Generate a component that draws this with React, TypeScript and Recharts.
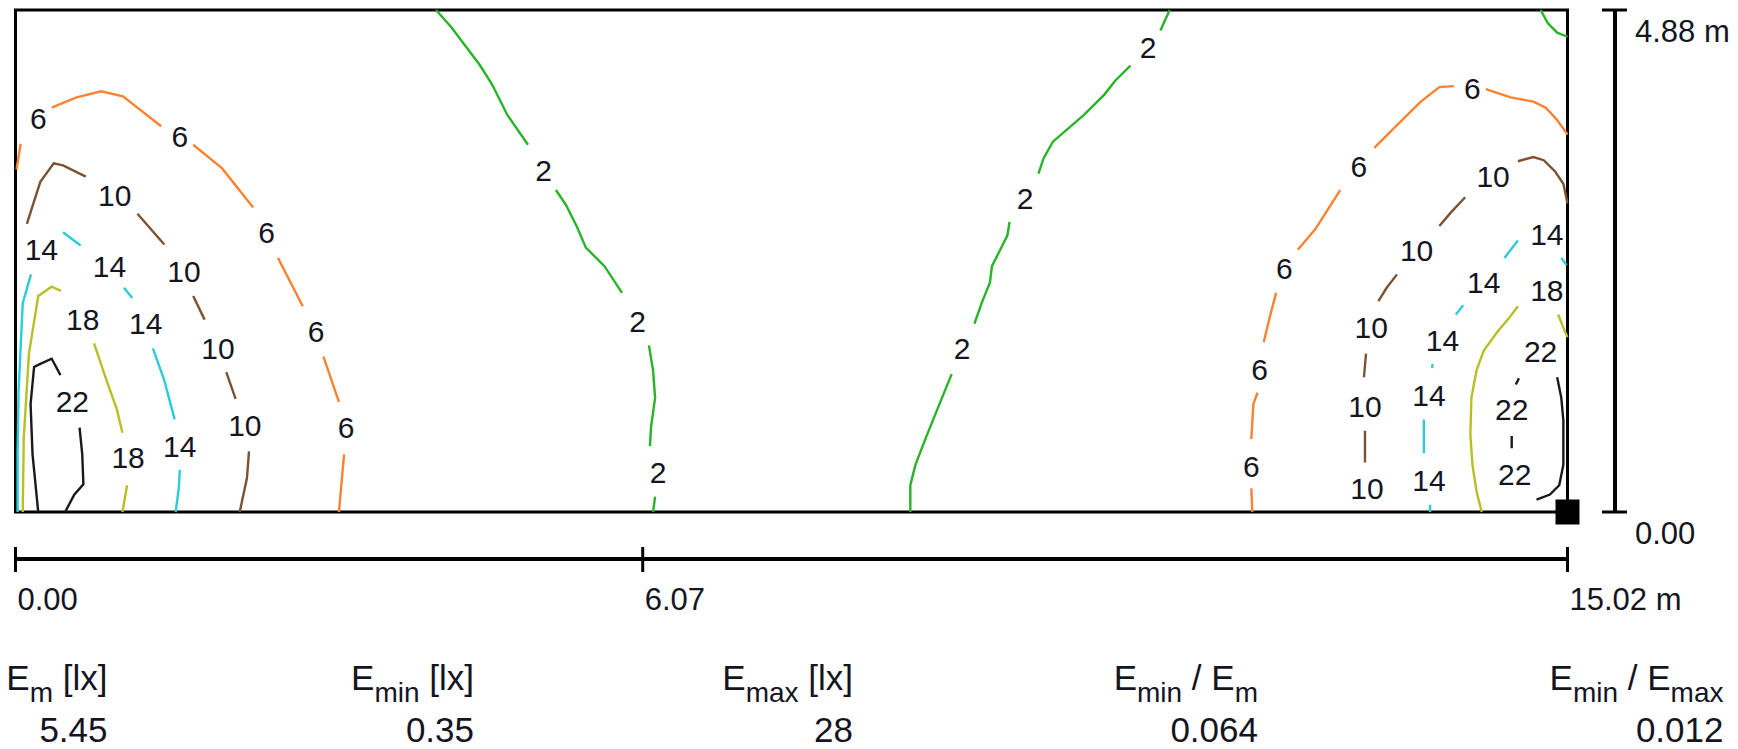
import React from "react";
import { ComposedChart, Line, Scatter, XAxis, YAxis, ReferenceArea } from "recharts";

const FONT = '"Liberation Sans", Arial, Helvetica, sans-serif';

// room size in metres
const ROOM_X = 15.02;
const ROOM_Y = 4.88;

const xScaleTicks = [0, 6.07, 15.02];
const yScaleTicks = [0, 4.88];

// isolines (lx), y: null = gap where the value label sits
const iso2a = [
  { x: 4.07, y: 4.88 }, { x: 4.22, y: 4.71 }, { x: 4.34, y: 4.55 }, { x: 4.49, y: 4.35 },
  { x: 4.61, y: 4.16 }, { x: 4.76, y: 3.86 }, { x: 4.96, y: 3.57 }, { x: 5.11, y: null },
  { x: 5.23, y: 3.13 }, { x: 5.33, y: 2.98 }, { x: 5.43, y: 2.78 }, { x: 5.52, y: 2.57 },
  { x: 5.7, y: 2.39 }, { x: 5.87, y: 2.13 }, { x: 6.02, y: null },
  { x: 6.13, y: 1.62 }, { x: 6.17, y: 1.38 }, { x: 6.19, y: 1.11 }, { x: 6.15, y: 0.82 },
  { x: 6.14, y: 0.64 }, { x: 6.22, y: null }, { x: 6.19, y: 0.15 }, { x: 6.17, y: 0 },
];
const iso2b = [
  { x: 8.66, y: 0 }, { x: 8.66, y: 0.26 }, { x: 8.71, y: 0.46 }, { x: 8.81, y: 0.72 },
  { x: 8.93, y: 1.02 }, { x: 9.06, y: 1.34 }, { x: 9.16, y: null },
  { x: 9.28, y: 1.83 }, { x: 9.35, y: 2.03 }, { x: 9.43, y: 2.23 }, { x: 9.45, y: 2.39 },
  { x: 9.53, y: 2.55 }, { x: 9.6, y: 2.69 }, { x: 9.62, y: 2.82 }, { x: 9.77, y: null },
  { x: 9.9, y: 3.29 }, { x: 9.95, y: 3.44 }, { x: 10.04, y: 3.6 }, { x: 10.34, y: 3.86 },
  { x: 10.54, y: 4.06 }, { x: 10.64, y: 4.19 }, { x: 10.79, y: 4.34 }, { x: 10.96, y: null },
  { x: 11.08, y: 4.68 }, { x: 11.17, y: 4.88 },
];
const iso2c = [
  { x: 14.76, y: 4.88 }, { x: 14.83, y: 4.75 }, { x: 14.92, y: 4.66 }, { x: 15.02, y: 4.62 },
];
const iso6Left = [
  { x: 0.01, y: 3.33 }, { x: 0.05, y: 3.58 }, { x: 0.22, y: null },
  { x: 0.35, y: 3.93 }, { x: 0.59, y: 4.03 }, { x: 0.83, y: 4.09 }, { x: 1.04, y: 4.04 },
  { x: 1.41, y: 3.75 }, { x: 1.59, y: null },
  { x: 1.72, y: 3.57 }, { x: 2.0, y: 3.34 }, { x: 2.3, y: 2.96 }, { x: 2.43, y: null },
  { x: 2.54, y: 2.47 }, { x: 2.78, y: 2.0 }, { x: 2.91, y: null },
  { x: 2.98, y: 1.51 }, { x: 3.13, y: 1.07 }, { x: 3.2, y: null },
  { x: 3.18, y: 0.56 }, { x: 3.13, y: 0 },
];
const iso6Right = [
  { x: 11.97, y: 0 }, { x: 11.96, y: 0.23 }, { x: 11.96, y: null },
  { x: 11.96, y: 0.71 }, { x: 11.98, y: 1.05 }, { x: 12.02, y: 1.16 }, { x: 12.04, y: null },
  { x: 12.08, y: 1.65 }, { x: 12.14, y: 1.9 }, { x: 12.2, y: 2.13 }, { x: 12.28, y: null },
  { x: 12.41, y: 2.55 }, { x: 12.58, y: 2.75 }, { x: 12.82, y: 3.13 }, { x: 13.0, y: null },
  { x: 13.15, y: 3.54 }, { x: 13.38, y: 3.77 }, { x: 13.6, y: 3.99 }, { x: 13.78, y: 4.13 },
  { x: 13.92, y: 4.14 }, { x: 14.1, y: null },
  { x: 14.23, y: 4.11 }, { x: 14.47, y: 4.03 }, { x: 14.69, y: 3.99 }, { x: 14.81, y: 3.93 },
  { x: 14.92, y: 3.81 }, { x: 15.02, y: 3.67 },
];
const iso10Left = [
  { x: 0.11, y: 2.8 }, { x: 0.24, y: 3.21 }, { x: 0.37, y: 3.39 }, { x: 0.46, y: 3.37 },
  { x: 0.68, y: 3.26 }, { x: 0.96, y: null },
  { x: 1.18, y: 2.9 }, { x: 1.44, y: 2.6 }, { x: 1.63, y: null },
  { x: 1.72, y: 2.1 }, { x: 1.83, y: 1.87 }, { x: 1.96, y: null },
  { x: 2.04, y: 1.36 }, { x: 2.13, y: 1.1 }, { x: 2.22, y: null },
  { x: 2.26, y: 0.59 }, { x: 2.24, y: 0.33 }, { x: 2.17, y: 0 },
];
const iso10Right = [
  { x: 13.06, y: 0.48 }, { x: 13.06, y: 0.79 }, { x: 13.06, y: null },
  { x: 13.05, y: 1.31 }, { x: 13.07, y: 1.54 }, { x: 13.12, y: null },
  { x: 13.19, y: 2.05 }, { x: 13.27, y: 2.18 }, { x: 13.37, y: 2.31 }, { x: 13.56, y: null },
  { x: 13.78, y: 2.78 }, { x: 13.89, y: 2.91 }, { x: 14.03, y: 3.06 }, { x: 14.3, y: null },
  { x: 14.54, y: 3.41 }, { x: 14.69, y: 3.45 }, { x: 14.79, y: 3.42 }, { x: 14.9, y: 3.31 },
  { x: 14.98, y: 3.19 }, { x: 15.02, y: 3.0 },
];
const iso14Left = [
  { x: 0.02, y: 0 }, { x: 0.02, y: 0.6 }, { x: 0.03, y: 1.18 }, { x: 0.07, y: 2.03 },
  { x: 0.15, y: 2.31 }, { x: 0.25, y: null },
  { x: 0.46, y: 2.72 }, { x: 0.63, y: 2.59 }, { x: 0.91, y: null },
  { x: 1.05, y: 2.18 }, { x: 1.13, y: 2.08 }, { x: 1.26, y: null },
  { x: 1.33, y: 1.59 }, { x: 1.44, y: 1.28 }, { x: 1.54, y: 0.9 }, { x: 1.59, y: null },
  { x: 1.59, y: 0.41 }, { x: 1.58, y: 0.23 }, { x: 1.55, y: 0 },
];
const iso14Right = [
  { x: 13.69, y: 0 }, { x: 13.69, y: 0.07 }, { x: 13.68, y: null },
  { x: 13.63, y: 0.57 }, { x: 13.63, y: 0.9 }, { x: 13.68, y: null },
  { x: 13.71, y: 1.4 }, { x: 13.715, y: 1.44 }, { x: 13.81, y: null },
  { x: 13.94, y: 1.92 }, { x: 14.01, y: 2.01 }, { x: 14.21, y: null },
  { x: 14.41, y: 2.47 }, { x: 14.54, y: 2.64 }, { x: 14.82, y: null },
  { x: 14.96, y: 2.47 }, { x: 15.01, y: 2.4 },
];
const iso18Left = [
  { x: 0.07, y: 0 }, { x: 0.08, y: 0.72 }, { x: 0.13, y: 1.54 }, { x: 0.22, y: 2.1 },
  { x: 0.35, y: 2.19 }, { x: 0.44, y: 2.15 }, { x: 0.65, y: null },
  { x: 0.76, y: 1.64 }, { x: 0.87, y: 1.31 }, { x: 0.98, y: 1.0 }, { x: 1.035, y: 0.77 },
  { x: 1.09, y: null }, { x: 1.08, y: 0.26 }, { x: 1.035, y: 0 },
];
const iso18Right = [
  { x: 14.19, y: 0 }, { x: 14.14, y: 0.2 }, { x: 14.1, y: 0.46 }, { x: 14.08, y: 0.75 },
  { x: 14.09, y: 1.11 }, { x: 14.14, y: 1.38 }, { x: 14.21, y: 1.57 }, { x: 14.34, y: 1.75 },
  { x: 14.45, y: 1.88 }, { x: 14.54, y: 2.0 }, { x: 14.82, y: null },
  { x: 14.93, y: 1.92 }, { x: 14.98, y: 1.79 }, { x: 15.02, y: 1.7 },
];
const iso22Left = [
  { x: 0.22, y: 0 }, { x: 0.165, y: 0.56 }, { x: 0.146, y: 1.05 }, { x: 0.18, y: 1.41 },
  { x: 0.24, y: 1.44 }, { x: 0.35, y: 1.49 }, { x: 0.435, y: 1.33 }, { x: 0.55, y: null },
  { x: 0.62, y: 0.82 }, { x: 0.646, y: 0.56 }, { x: 0.657, y: 0.27 }, { x: 0.57, y: 0.17 },
  { x: 0.48, y: 0 },
];
const iso22Right = [
  { x: 14.55, y: 1.3 }, { x: 14.52, y: 1.24 }, { x: 14.48, y: null },
  { x: 14.48, y: 0.74 }, { x: 14.48, y: 0.62 }, { x: 14.51, y: null },
  { x: 14.72, y: 0.12 }, { x: 14.85, y: 0.17 }, { x: 14.94, y: 0.26 }, { x: 14.98, y: 0.46 },
  { x: 14.98, y: 0.89 }, { x: 14.96, y: 1.11 }, { x: 14.92, y: 1.31 },
];

// value labels on the isolines
const labels2 = [
  { x: 5.11, y: 3.32 }, { x: 6.02, y: 1.85 }, { x: 6.22, y: 0.38 },
  { x: 9.16, y: 1.59 }, { x: 9.77, y: 3.05 }, { x: 10.96, y: 4.52 },
];
const labels6 = [
  { x: 0.22, y: 3.83 }, { x: 1.59, y: 3.65 }, { x: 2.43, y: 2.72 }, { x: 2.91, y: 1.75 },
  { x: 3.2, y: 0.82 }, { x: 11.96, y: 0.44 }, { x: 12.04, y: 1.39 }, { x: 12.28, y: 2.37 },
  { x: 13.0, y: 3.36 }, { x: 14.1, y: 4.12 },
];
const labels10 = [
  { x: 0.96, y: 3.08 }, { x: 1.63, y: 2.34 }, { x: 1.96, y: 1.59 }, { x: 2.22, y: 0.84 },
  { x: 13.08, y: 0.23 }, { x: 13.06, y: 1.03 }, { x: 13.12, y: 1.79 }, { x: 13.56, y: 2.54 },
  { x: 14.3, y: 3.26 },
];
const labels14 = [
  { x: 0.25, y: 2.55 }, { x: 0.91, y: 2.39 }, { x: 1.26, y: 1.83 }, { x: 1.59, y: 0.64 },
  { x: 13.68, y: 0.31 }, { x: 13.68, y: 1.13 }, { x: 13.81, y: 1.67 }, { x: 14.21, y: 2.23 },
  { x: 14.82, y: 2.7 },
];
const labels18 = [{ x: 0.65, y: 1.87 }, { x: 1.09, y: 0.53 }, { x: 14.82, y: 2.15 }];
const labels22 = [{ x: 0.55, y: 1.07 }, { x: 14.76, y: 1.56 }, { x: 14.48, y: 1.0 }, { x: 14.51, y: 0.36 }];

const luminaires = [{ x: 15.02, y: 0 }];

// summary row
const statHeaders: [string, boolean][][] = [
  [["E", false], ["m", true], [" [lx]", false]],
  [["E", false], ["min", true], [" [lx]", false]],
  [["E", false], ["max", true], [" [lx]", false]],
  [["E", false], ["min", true], [" / E", false], ["m", true]],
  [["E", false], ["min", true], [" / E", false], ["max", true]],
];
const statValues = ["5.45", "0.35", "28", "0.064", "0.012"];
const statRight = [107.5, 474, 853, 1258, 1723.5];

const GREEN = "#27b527";
const ORANGE = "#fb8232";
const BROWN = "#7d5230";
const CYAN = "#2ccdd4";
const OLIVE = "#b8bf26";
const BLACK = "#1a1a1a";
const TEXT = "#15151f";

const isolines = [
  { key: "2a", data: iso2a, color: GREEN },
  { key: "2b", data: iso2b, color: GREEN },
  { key: "2c", data: iso2c, color: GREEN },
  { key: "6l", data: iso6Left, color: ORANGE },
  { key: "6r", data: iso6Right, color: ORANGE },
  { key: "10l", data: iso10Left, color: BROWN },
  { key: "10r", data: iso10Right, color: BROWN },
  { key: "14l", data: iso14Left, color: CYAN },
  { key: "14r", data: iso14Right, color: CYAN },
  { key: "18l", data: iso18Left, color: OLIVE },
  { key: "18r", data: iso18Right, color: OLIVE },
  { key: "22l", data: iso22Left, color: BLACK },
  { key: "22r", data: iso22Right, color: BLACK },
];

const labelSets = [
  { value: "2", data: labels2 },
  { value: "6", data: labels6 },
  { value: "10", data: labels10 },
  { value: "14", data: labels14 },
  { value: "18", data: labels18 },
  { value: "22", data: labels22 },
];

const fmt = (v: number) => (v === ROOM_X || v === ROOM_Y ? `${v.toFixed(2)} m` : v.toFixed(2));

function XScaleTick({ x, y, payload }: any) {
  return (
    <g>
      <line x1={x} x2={x} y1={y - 12} y2={y + 13} stroke="#000" strokeWidth={3} />
      <text x={x + 2} y={y + 51} textAnchor="start"
        fontSize={31} fontFamily={FONT} fill={TEXT}>
        {fmt(payload.value)}
      </text>
    </g>
  );
}

function YScaleTick({ x, y, payload }: any) {
  return (
    <g>
      <line x1={x - 13} x2={x + 12} y1={y} y2={y} stroke="#000" strokeWidth={3} />
      <text x={x + 20} y={y + 32} textAnchor="start"
        fontSize={31} fontFamily={FONT} fill={TEXT}>
        {fmt(payload.value)}
      </text>
    </g>
  );
}

function makeLabelShape(value: string) {
  return (p: any) => (
    <text x={p.cx} y={p.cy} textAnchor="middle" dominantBaseline="central"
      fontSize={30} fontFamily={FONT} fill={TEXT}>
      {value}
    </text>
  );
}

function LuminaireShape(p: any) {
  return <rect x={p.cx - 12} y={p.cy - 12.5} width={24} height={25} fill="#000" />;
}

export default function App() {
  return (
    <div style={{ position: "absolute", left: 0, top: 0, width: 1738, height: 749, background: "#fff" }}>
      <ComposedChart width={1738} height={749} margin={{ top: 10, left: 15.5, right: 3, bottom: 90 }}>
        {/* scale bars: declared first so they sit outside the room axes */}
        <XAxis xAxisId="scale" dataKey="x" type="number" scale="linear" domain={[0, ROOM_X]}
          ticks={xScaleTicks} interval={0} height={100} tickSize={0} tickMargin={0}
          axisLine={{ stroke: "#000", strokeWidth: 4 }} tickLine={false} tick={<XScaleTick />} />
        <YAxis yAxisId="scale" dataKey="y" type="number" scale="linear" domain={[0, ROOM_Y]}
          ticks={yScaleTicks} interval={0} orientation="right" width={120} tickSize={0} tickMargin={0}
          axisLine={{ stroke: "#000", strokeWidth: 4 }} tickLine={false} tick={<YScaleTick />} />
        <XAxis xAxisId="room" dataKey="x" type="number" scale="linear" domain={[0, ROOM_X]}
          ticks={[0, ROOM_X]} height={47} axisLine={false} tickLine={false} tick={false} />
        <YAxis yAxisId="room" dataKey="y" type="number" scale="linear" domain={[0, ROOM_Y]}
          ticks={[0, ROOM_Y]} orientation="right" width={47.5} axisLine={false} tickLine={false} tick={false} />

        {isolines.map((c) => (
          <Line key={c.key} xAxisId="room" yAxisId="room" data={c.data} dataKey="y"
            type="linear" stroke={c.color} strokeWidth={2.4} dot={false} activeDot={false}
            connectNulls={false} isAnimationActive={false} />
        ))}

        <ReferenceArea xAxisId="room" yAxisId="room" x1={0} x2={ROOM_X} y1={0} y2={ROOM_Y}
          fill="none" fillOpacity={0} stroke="#000" strokeWidth={3} strokeOpacity={1} ifOverflow="visible" />

        {labelSets.map((s) => (
          <Scatter key={s.value} xAxisId="room" yAxisId="room" data={s.data} dataKey="y"
            shape={makeLabelShape(s.value)} isAnimationActive={false} />
        ))}

        {/* same domain and range as the room axes; keeps the scale bars alive */}
        <Scatter xAxisId="scale" yAxisId="scale" data={luminaires} dataKey="y"
          shape={LuminaireShape} isAnimationActive={false} />
      </ComposedChart>

      <svg width={1738} height={749} style={{ position: "absolute", left: 0, top: 0, pointerEvents: "none" }}>
        {statHeaders.map((parts, i) => (
          <g key={i}>
            <text x={statRight[i]} y={690} textAnchor="end" fontSize={35} fontFamily={FONT} fill={TEXT}>
              {parts.map(([t, sub], j) => {
                const prevSub = j > 0 && parts[j - 1][1];
                const dy = sub && !prevSub ? 12 : !sub && prevSub ? -12 : 0;
                return (
                  <tspan key={j} dy={dy} fontSize={sub ? 28 : 35} xmlSpace="preserve">
                    {t}
                  </tspan>
                );
              })}
            </text>
            <text x={statRight[i]} y={742} textAnchor="end" fontSize={35} fontFamily={FONT} fill={TEXT}>
              {statValues[i]}
            </text>
          </g>
        ))}
      </svg>
    </div>
  );
}
